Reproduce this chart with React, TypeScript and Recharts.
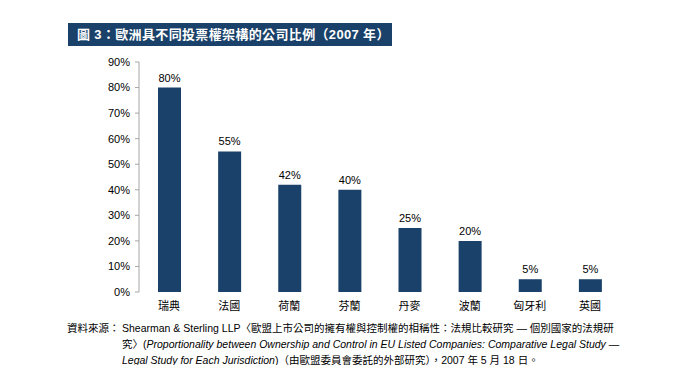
import { BarChart, Bar, XAxis, YAxis, LabelList } from 'recharts';

const countries = ['瑞典', '法國', '荷蘭', '芬蘭', '丹麥', '波蘭', '匈牙利', '英國'];
const shares = [80, 55, 42, 40, 25, 20, 5, 5];
const yTicks = [0, 10, 20, 30, 40, 50, 60, 70, 80, 90];
const edgeTicks = [0, 1, 2, 3, 4, 5, 6, 7, 8];

const data = countries.map((name, i) => ({ name, value: shares[i], pos: i + 0.5 }));

const NAVY = '#1a4169';
const AXIS = '#a6a6a6';
const FONT = '"Liberation Sans", Arial, "Noto Sans CJK TC", sans-serif';

export default function App() {
  return (
    <div style={{ position: 'absolute', left: 0, top: 0, width: 689, height: 365, background: '#fff', fontFamily: FONT }}>
      <div
        style={{
          position: 'absolute', left: 68, top: 23, width: 324, height: 23,
          background: NAVY, color: '#fff', fontWeight: 700, fontSize: 13,
          lineHeight: '23px', paddingLeft: 9, boxSizing: 'border-box', whiteSpace: 'nowrap',
          letterSpacing: 0.35,
        }}
      >
        圖 3：歐洲具不同投票權架構的公司比例（2007 年）
      </div>

      <div style={{ position: 'absolute', left: 0, top: 0 }}>
        <BarChart width={689} height={320} data={data} margin={{ top: 62, right: 69, left: 0, bottom: 0 }}>
          <XAxis
            xAxisId="edge"
            type="number"
            dataKey="pos"
            domain={[0, 8]}
            ticks={edgeTicks}
            height={0}
            axisLine={{ stroke: AXIS }}
            tickLine={{ stroke: AXIS }}
            tickSize={4}
            tickFormatter={() => ''}
          />
          <XAxis
            xAxisId="cat"
            dataKey="name"
            height={28}
            axisLine={false}
            tickLine={false}
            tick={{ fill: '#000', fontSize: 11, fontFamily: FONT }}
            dy={2}
            interval={0}
          />
          <YAxis
            width={139}
            domain={[0, 90]}
            ticks={yTicks}
            axisLine={{ stroke: AXIS }}
            tickLine={{ stroke: AXIS }}
            tickSize={4}
            tickFormatter={(v) => `${v}%`}
            tick={{ fill: '#000', fontSize: 11, fontFamily: FONT }}
            dx={-3}
          />
          <Bar xAxisId="cat" dataKey="value" fill={NAVY} barSize={23} isAnimationActive={false}>
            <LabelList
              dataKey="value"
              position="top"
              formatter={(v: number) => `${v}%`}
              style={{ fill: '#000', fontSize: 11, fontFamily: FONT }}
              offset={6}
            />
          </Bar>
        </BarChart>
      </div>

      <div
        style={{
          position: 'absolute', left: 67, top: 320, fontSize: 10.5, lineHeight: '16px',
          color: '#000', whiteSpace: 'nowrap',
        }}
      >
        <div style={{ display: 'flex' }}>
          <div style={{ width: 55 }}>資料來源：</div>
          <div>
            <div>Shearman &amp; Sterling LLP〈歐盟上市公司的擁有權與控制權的相稱性：法規比較研究 — 個別國家的法規研</div>
            <div>究〉(<i>Proportionality between Ownership and Control in EU Listed Companies: Comparative Legal Study —</i></div>
            <div><i>Legal Study for Each Jurisdiction</i>)（由歐盟委員會委託的外部研究），2007 年 5 月 18 日。</div>
          </div>
        </div>
      </div>
    </div>
  );
}
